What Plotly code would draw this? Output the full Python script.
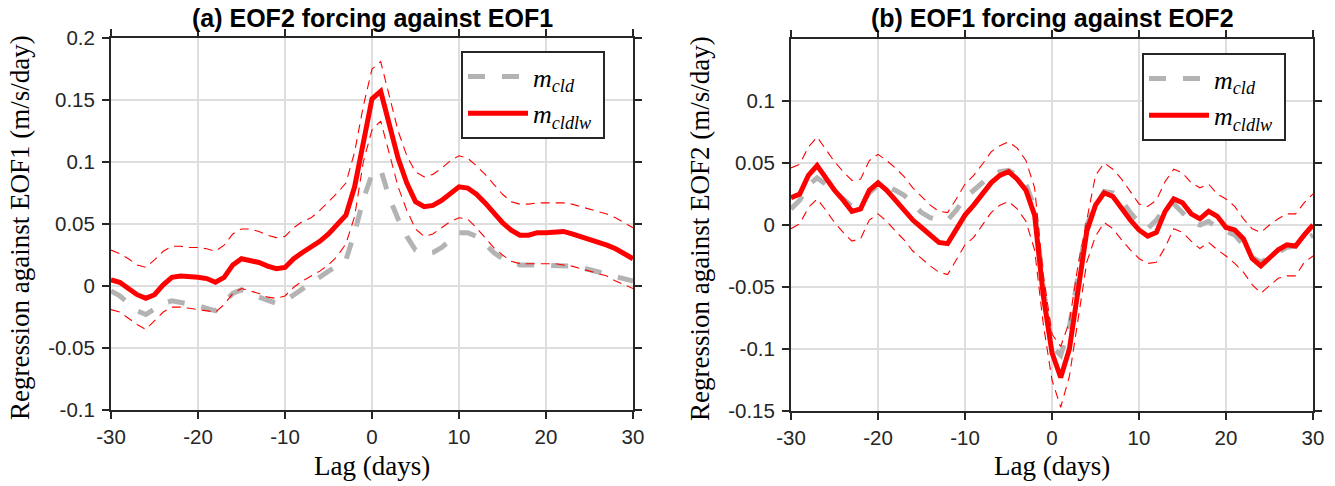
import plotly.graph_objects as go

W, H = 1335, 486

lag = list(range(-30, 31))

# ---------------- Panel (a): EOF2 forcing against EOF1 ----------------
a_cldlw = [0.005, 0.003, -0.002, -0.007, -0.010, -0.007, 0.001, 0.007, 0.008, 0.008,
           0.007, 0.006, 0.003, 0.007, 0.017, 0.022, 0.021, 0.019, 0.016, 0.014,
           0.015, 0.022, 0.027, 0.031, 0.036, 0.042, 0.049, 0.057, 0.080, 0.115,
           0.151, 0.157, 0.130, 0.103, 0.083, 0.068, 0.064, 0.065, 0.069, 0.075,
           0.080, 0.079, 0.074, 0.067, 0.059, 0.051, 0.045, 0.041, 0.041, 0.043,
           0.043, 0.043, 0.044, 0.042, 0.040, 0.038, 0.036, 0.033, 0.030, 0.026,
           0.022]
a_cld = [-0.004, -0.008, -0.014, -0.020, -0.023, -0.019, -0.014, -0.012, -0.013, -0.014,
         -0.016, -0.018, -0.020, -0.013, -0.006, -0.003, -0.005, -0.009, -0.012, -0.014,
         -0.012, -0.007, -0.002, 0.003, 0.008, 0.012, 0.016, 0.021, 0.043, 0.070,
         0.090, 0.094, 0.071, 0.054, 0.040, 0.029, 0.026, 0.027, 0.031, 0.037,
         0.043, 0.043, 0.040, 0.034, 0.027, 0.022, 0.019, 0.017, 0.017, 0.017,
         0.017, 0.017, 0.016, 0.016, 0.015, 0.013, 0.011, 0.009, 0.007, 0.006,
         0.004]
a_upper = [0.029, 0.026, 0.022, 0.017, 0.015, 0.021, 0.028, 0.032, 0.032, 0.031,
           0.031, 0.030, 0.028, 0.033, 0.042, 0.046, 0.046, 0.044, 0.041, 0.039,
           0.040, 0.047, 0.052, 0.055, 0.061, 0.068, 0.075, 0.083, 0.108, 0.145,
           0.175, 0.181, 0.152, 0.125, 0.105, 0.092, 0.088, 0.090, 0.095, 0.101,
           0.105, 0.103, 0.097, 0.090, 0.082, 0.074, 0.068, 0.066, 0.066, 0.067,
           0.067, 0.067, 0.067, 0.066, 0.064, 0.062, 0.060, 0.058, 0.055, 0.051,
           0.047]
a_lower = [-0.019, -0.021, -0.026, -0.031, -0.035, -0.028, -0.021, -0.017, -0.017, -0.018,
           -0.019, -0.020, -0.021, -0.015, -0.006, -0.002, -0.004, -0.006, -0.009, -0.010,
           -0.008, -0.001, 0.004, 0.008, 0.012, 0.017, 0.024, 0.034, 0.056, 0.100,
           0.126, 0.133, 0.107, 0.080, 0.061, 0.046, 0.040, 0.042, 0.047, 0.052,
           0.055, 0.054, 0.047, 0.039, 0.031, 0.025, 0.020, 0.018, 0.018, 0.018,
           0.018, 0.018, 0.017, 0.016, 0.014, 0.012, 0.010, 0.008, 0.004, 0.001,
           -0.002]

# ---------------- Panel (b): EOF1 forcing against EOF2 ----------------
b_cldlw = [0.022, 0.025, 0.040, 0.048, 0.038, 0.028, 0.020, 0.011, 0.013, 0.028,
           0.034, 0.028, 0.020, 0.012, 0.004, -0.002, -0.008, -0.014, -0.015, -0.004,
           0.008, 0.016, 0.025, 0.034, 0.040, 0.043, 0.037, 0.028, 0.008, -0.057,
           -0.103, -0.123, -0.100, -0.052, -0.005, 0.016, 0.026, 0.023, 0.013, 0.004,
           -0.004, -0.009, -0.006, 0.011, 0.021, 0.018, 0.009, 0.005, 0.011, 0.007,
           -0.002, -0.004, -0.011, -0.027, -0.033, -0.026, -0.020, -0.016, -0.017, -0.008,
           0.000]
b_cld = [0.013, 0.020, 0.032, 0.038, 0.033, 0.027, 0.020, 0.015, 0.016, 0.026,
         0.032, 0.031, 0.028, 0.024, 0.017, 0.010, 0.006, 0.004, 0.004, 0.012,
         0.022, 0.028, 0.034, 0.040, 0.043, 0.044, 0.040, 0.033, 0.014, -0.050,
         -0.098, -0.105, -0.082, -0.040, 0.000, 0.016, 0.027, 0.026, 0.020, 0.010,
         0.002, -0.003, 0.004, 0.014, 0.017, 0.010, 0.002, 0.000, 0.003, -0.002,
         -0.005, -0.008, -0.016, -0.026, -0.030, -0.026, -0.022, -0.018, -0.017, -0.013,
         -0.008]
b_upper = [0.046, 0.049, 0.063, 0.071, 0.061, 0.051, 0.043, 0.036, 0.037, 0.052,
           0.057, 0.052, 0.046, 0.039, 0.030, 0.023, 0.016, 0.011, 0.010, 0.021,
           0.033, 0.040, 0.049, 0.059, 0.064, 0.067, 0.062, 0.052, 0.030, -0.040,
           -0.088, -0.098, -0.078, -0.032, 0.005, 0.040, 0.050, 0.045, 0.037, 0.027,
           0.017, 0.015, 0.020, 0.035, 0.045, 0.042, 0.034, 0.030, 0.033, 0.025,
           0.021, 0.015, 0.005, -0.003, -0.006, 0.000, 0.005, 0.009, 0.009, 0.018,
           0.025]
b_lower = [-0.003, 0.001, 0.014, 0.021, 0.012, 0.002, -0.006, -0.013, -0.011, 0.004,
           0.009, 0.003, -0.005, -0.012, -0.021, -0.027, -0.033, -0.038, -0.040, -0.028,
           -0.016, -0.010, 0.000, 0.010, 0.016, 0.019, 0.013, 0.003, -0.020, -0.080,
           -0.125, -0.147, -0.122, -0.075, -0.030, -0.009, 0.002, -0.003, -0.012, -0.020,
           -0.027, -0.031, -0.030, -0.018, -0.003, -0.006, -0.013, -0.019, -0.014, -0.020,
           -0.025, -0.031, -0.038, -0.048, -0.055, -0.049, -0.043, -0.041, -0.041, -0.030,
           -0.025]

x_ticks = [-30, -20, -10, 0, 10, 20, 30]
x_ticktext = ["-30", "-20", "-10", "0", "10", "20", "30"]
a_yticks = [-0.1, -0.05, 0, 0.05, 0.1, 0.15, 0.2]
a_ytext = ["-0.1", "-0.05", "0", "0.05", "0.1", "0.15", "0.2"]
b_yticks = [-0.15, -0.1, -0.05, 0, 0.05, 0.1]
b_ytext = ["-0.15", "-0.1", "-0.05", "0", "0.05", "0.1"]

titles = ["(a) EOF2 forcing against EOF1", "(b) EOF1 forcing against EOF2"]
ytitles = ["Regression against EOF1 (m/s/day)", "Regression against EOF2 (m/s/day)"]
xtitle = "Lag (days)"
name_cld = "<i>m</i><sub><i>cld</i></sub>"
name_cldlw = "<i>m</i><sub><i>cldlw</i></sub>\u00a0"

GRAY = "#b3b3b3"
RED = "#ff0000"
AX = "#262626"

fig = go.Figure()


def add_panel(xa, ya, leg, cld, cldlw, up, lo):
    fig.add_trace(go.Scatter(x=lag, y=cld, mode="lines", name=name_cld,
                             line=dict(color=GRAY, width=5, dash="17px,17px"),
                             xaxis=xa, yaxis=ya, legend=leg))
    fig.add_trace(go.Scatter(x=lag, y=up, mode="lines", showlegend=False,
                             line=dict(color=RED, width=1.1, dash="9px,6px"),
                             xaxis=xa, yaxis=ya, hoverinfo="skip"))
    fig.add_trace(go.Scatter(x=lag, y=lo, mode="lines", showlegend=False,
                             line=dict(color=RED, width=1.1, dash="9px,6px"),
                             xaxis=xa, yaxis=ya, hoverinfo="skip"))
    fig.add_trace(go.Scatter(x=lag, y=cldlw, mode="lines", name=name_cldlw,
                             line=dict(color=RED, width=5),
                             xaxis=xa, yaxis=ya, legend=leg))


add_panel("x", "y", "legend", a_cld, a_cldlw, a_upper, a_lower)
add_panel("x2", "y2", "legend2", b_cld, b_cldlw, b_upper, b_lower)

tickfont = dict(family="Liberation Sans", size=20.5, color=AX)
common_axis = dict(showline=True, linecolor=AX, linewidth=2, mirror="ticks",
                   ticks="outside", ticklen=7, tickwidth=1.5, tickcolor=AX,
                   showgrid=True, gridcolor="#dedede", gridwidth=2,
                   zeroline=False, tickfont=tickfont, automargin=False)

L1, R1 = 111, 633
L2, R2 = 791, 1313
T1, B1 = 38, 410
T2, B2 = 39, 411

legend_common = dict(xanchor="left", yanchor="top",
                     bgcolor="white", bordercolor=AX, borderwidth=2,
                     font=dict(family="Liberation Serif", size=26, color="black"),
                     itemwidth=60, tracegroupgap=0)

fig.update_layout(
    width=W, height=H,
    margin=dict(l=0, r=0, t=0, b=0, autoexpand=False),
    paper_bgcolor="white", plot_bgcolor="white",
    xaxis=dict(domain=[L1 / W, R1 / W], range=[-30, 30], tickvals=x_ticks,
               ticktext=x_ticktext, anchor="y", **common_axis),
    yaxis=dict(domain=[1 - B1 / H, 1 - T1 / H], range=[-0.1, 0.2],
               tickvals=a_yticks, ticktext=a_ytext, anchor="x",
               ticklabelstandoff=3, **common_axis),
    xaxis2=dict(domain=[L2 / W, R2 / W], range=[-30, 30], tickvals=x_ticks,
                ticktext=x_ticktext, anchor="y2", **common_axis),
    yaxis2=dict(domain=[1 - B2 / H, 1 - T2 / H], range=[-0.15, 0.15],
                tickvals=b_yticks, ticktext=b_ytext, anchor="x2",
                ticklabelstandoff=3, **common_axis),
    legend=dict(x=461 / W, y=1 - 51 / H, **legend_common),
    legend2=dict(x=1142 / W, y=1 - 53 / H, **legend_common),
    showlegend=True,
)

annots = []
for i, (l, r, t, b) in enumerate([(L1, R1, T1, B1), (L2, R2, T2, B2)]):
    cx = (l + r) / 2
    annots.append(dict(text="<b>" + titles[i] + "</b>", x=cx / W, y=1 - 18 / H,
                       xref="paper", yref="paper", xanchor="center", yanchor="middle",
                       showarrow=False,
                       font=dict(family="Liberation Sans", size=25, color="black")))
    annots.append(dict(text=xtitle, x=cx / W, y=1 - 466 / H,
                       xref="paper", yref="paper", xanchor="center", yanchor="middle",
                       showarrow=False,
                       font=dict(family="Liberation Serif", size=27, color="black")))
ycx = [20, 700]
for i in range(2):
    annots.append(dict(text=ytitles[i], x=ycx[i] / W, y=1 - 228 / H,
                       xref="paper", yref="paper", xanchor="center", yanchor="middle",
                       textangle=-90, showarrow=False,
                       font=dict(family="Liberation Serif", size=27, color="black")))
fig.update_layout(annotations=annots)

fig.write_html("out.html",
               config={"displayModeBar": False},
               post_script="document.body.style.margin='0px';"
                           "document.body.style.overflow='hidden';")
